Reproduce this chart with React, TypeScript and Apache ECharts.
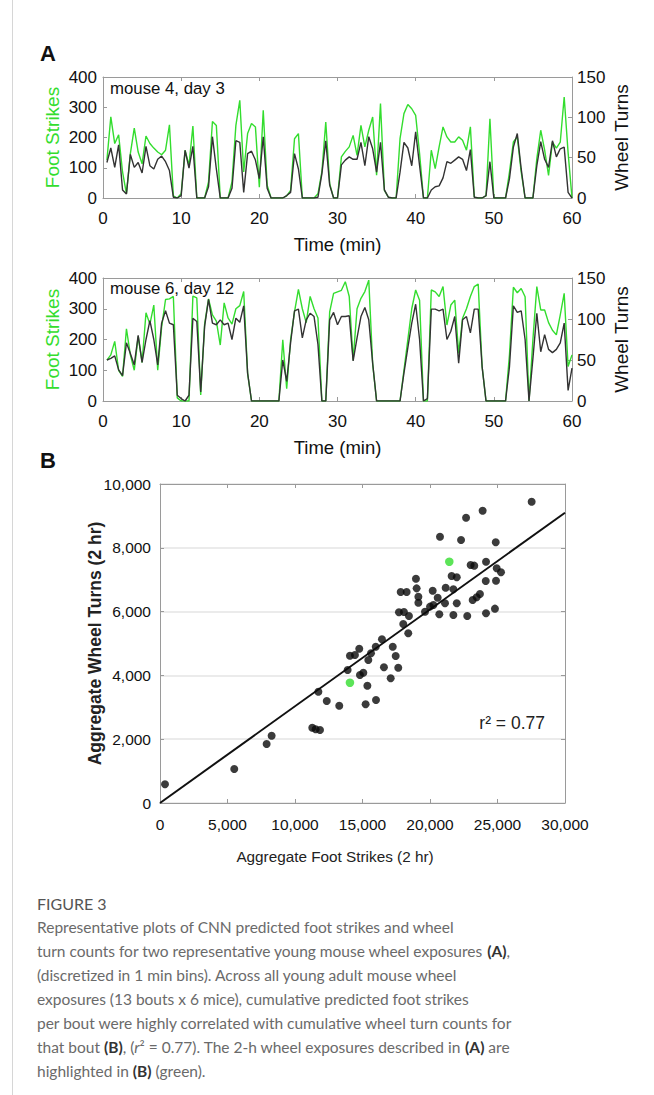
import React, { useEffect, useRef } from "react";
import * as echarts from "echarts";

// Panel A: 1-min bins plotted at 0.5 "min" steps (0.5 .. 60)
const timeStep = 0.5;
const xTicksA = { min: 0, max: 60, interval: 10 };

// mouse 4, day 3
const footStrikesM4 = [
  125, 268, 180, 209, 86, 14, 147, 231, 152, 113,
  205, 180, 165, 152, 143, 158, 242, 7, 0, 14,
  158, 108, 238, 0, 0, 0, 53, 253, 240, 0,
  0, 0, 53, 240, 323, 86, 213, 246, 235, 36,
  290, 42, 0, 0, 0, 0, 7, 25, 196, 213,
  0, 0, 0, 0, 14, 86, 251, 47, 0, 0,
  136, 154, 169, 207, 141, 240, 169, 224, 268, 75,
  312, 25, 3, 0, 0, 196, 279, 309, 295, 273,
  147, 0, 0, 158, 97, 169, 235, 202, 185, 185,
  202, 191, 158, 235, 3, 0, 0, 7, 262, 0,
  0, 0, 0, 86, 185, 202, 86, 0, 0, 0,
  130, 224, 158, 75, 185, 165, 185, 334, 150, 0,
];
const wheelTurnsM4 = [
  44, 62, 38, 66, 10, 5, 54, 38, 44, 31,
  64, 40, 36, 48, 52, 45, 34, 1, 0, 3,
  59, 37, 64, 0, 0, 0, 14, 76, 36, 0,
  0, 0, 12, 71, 69, 7, 55, 58, 47, 24,
  76, 12, 0, 0, 0, 0, 3, 7, 55, 36,
  0, 0, 0, 0, 1, 30, 71, 16, 0, 0,
  41, 47, 51, 48, 48, 69, 40, 76, 61, 32,
  69, 10, 1, 0, 0, 32, 69, 62, 40, 82,
  40, 0, 0, 10, 14, 15, 25, 45, 43, 47,
  51, 48, 34, 60, 1, 0, 0, 3, 45, 0,
  0, 0, 0, 24, 63, 80, 36, 0, 0, 0,
  40, 70, 48, 38, 71, 51, 61, 63, 7, 0,
];

// mouse 6, day 12
const footStrikesM6 = [
  133, 150, 194, 100, 80, 235, 150, 100, 210, 125,
  287, 250, 312, 100, 240, 330, 332, 340, 10, 0,
  0, 0, 341, 335, 20, 250, 332, 280, 260, 182,
  319, 270, 250, 300, 310, 356, 90, 0, 0, 0,
  0, 0, 0, 0, 0, 199, 40, 200, 290, 363,
  300, 255, 340, 300, 270, 0, 0, 290, 350, 355,
  360, 388, 340, 133, 300, 334, 356, 393, 120, 0,
  0, 0, 0, 0, 0, 0, 100, 200, 300, 361,
  328, 0, 0, 361, 355, 340, 372, 247, 312, 328,
  155, 269, 300, 340, 372, 380, 112, 0, 0, 0,
  0, 0, 0, 150, 370, 352, 366, 339, 0, 200,
  372, 296, 296, 255, 230, 215, 280, 350, 112, 150,
];
const wheelTurnsM6 = [
  50, 52, 55, 38, 31, 71, 58, 44, 80, 47,
  75, 98, 75, 44, 95, 110, 95, 93, 7, 3,
  0, 7, 101, 97, 11, 91, 124, 95, 93, 99,
  93, 95, 75, 101, 96, 116, 34, 0, 0, 0,
  0, 0, 0, 0, 0, 50, 24, 71, 110, 112,
  77, 99, 107, 103, 69, 0, 0, 99, 108, 93,
  103, 103, 104, 49, 77, 103, 114, 99, 46, 0,
  0, 0, 0, 0, 0, 0, 34, 65, 95, 118,
  75, 0, 3, 112, 112, 110, 112, 75, 85, 103,
  46, 99, 103, 83, 112, 112, 42, 0, 0, 0,
  0, 0, 0, 42, 116, 108, 110, 75, 0, 52,
  107, 60, 81, 63, 59, 63, 71, 95, 13, 40,
];

// Panel B: aggregate foot strikes vs wheel turns per bout
const boutsBlack = [
  [27530, 9445], [23900, 9163], [22670, 8944], [20740, 8348], [22300, 8245],
  [24870, 8172], [23010, 7461], [23280, 7440], [24150, 7564], [24940, 7357],
  [25260, 7232], [21600, 7116], [21980, 7075], [18960, 7032], [24130, 6959],
  [24890, 6969], [21160, 6750], [20200, 6656], [21730, 6698], [19010, 6729],
  [17830, 6614], [18270, 6614], [20570, 6436], [19140, 6468], [23700, 6552],
  [23460, 6448], [19140, 6280], [20250, 6207], [20000, 6155], [21980, 6260],
  [23160, 6364], [21110, 6260], [24810, 6092], [24150, 5946], [22760, 5862],
  [21730, 5893], [20690, 5915], [17700, 5978], [18070, 5987], [19630, 5997],
  [18440, 5862], [18020, 5611], [18390, 5320], [16440, 5131], [15980, 4900],
  [14760, 4837], [14070, 4617], [14440, 4639], [15630, 4692], [17240, 4900],
  [17460, 4608], [15430, 4483], [17650, 4242], [16590, 4254], [15060, 4085],
  [14810, 4013], [17090, 3909], [15360, 3677], [11730, 3489], [13900, 4169],
  [370, 586], [5500, 1066], [7900, 1850], [8270, 2110], [11280, 2361],
  [11530, 2310], [11850, 2288], [12350, 3197], [13280, 3050], [15230, 3094],
  [16000, 3229],
];
const boutsGreen = [[21430, 7564], [14070, 3771]];
const fitLine = [[0, 0], [30000, 9100]];

const captionLines = [
  "Representative plots of CNN predicted foot strikes and wheel",
  "turn counts for two representative young mouse wheel exposures {b|(A)},",
  "(discretized in 1 min bins). Across all young adult mouse wheel",
  "exposures (13 bouts x 6 mice), cumulative predicted foot strikes",
  "per bout were highly correlated with cumulative wheel turn counts for",
  "that bout {b|(B)}, ({i|r}² = 0.77). The 2-h wheel exposures described in {b|(A)} are",
  "highlighted in {b|(B)} (green).",
];

const GREEN = "#33dd2e";
const DARK = "#333333";
const AXIS = "#9a9a9a";
const FONT = "'Liberation Sans', Arial, sans-serif";

const toSeries = (arr: number[]) => arr.map((v, i) => [(i + 1) * timeStep, v]);

export default function App() {
  const ref = useRef<HTMLDivElement>(null);
  useEffect(() => {
    if (!ref.current) return;
    const chart = echarts.init(ref.current, undefined, { renderer: "svg" });

    const tick = () => ({ show: true, inside: true, length: 4, lineStyle: { color: AXIS, width: 1 } });
    const line = () => ({ show: true, onZero: false, lineStyle: { color: AXIS, width: 1 } });
    const axisA = (gridIndex: number) => [
      {
        gridIndex, type: "value", ...xTicksA, position: "bottom",
        axisLine: line(), axisTick: tick(), splitLine: { show: false },
        axisLabel: { fontSize: 17, color: "#111", margin: 12, fontFamily: FONT },
        name: "Time (min)", nameLocation: "middle", nameGap: 37, nameMoveOverlap: false,
        nameTextStyle: { fontSize: 18.5, color: "#111", fontFamily: FONT },
      },
      {
        gridIndex, type: "value", ...xTicksA, position: "top",
        axisLine: line(), axisTick: tick(), splitLine: { show: false },
        axisLabel: { show: false },
      },
    ];
    const yA = (gridIndex: number) => [
      {
        gridIndex, type: "value", min: 0, max: 400, interval: 100, position: "left",
        axisLine: line(), axisTick: tick(), splitLine: { show: false },
        axisLabel: { fontSize: 17, color: "#111", margin: 6, fontFamily: FONT },
        name: "Foot Strikes", nameLocation: "middle", nameGap: 41, nameMoveOverlap: false,
        nameTextStyle: { fontSize: 19, color: GREEN, fontFamily: FONT },
      },
      {
        gridIndex, type: "value", min: 0, max: 150, interval: 50, position: "right",
        axisLine: line(), axisTick: tick(), splitLine: { show: false },
        axisLabel: { fontSize: 17, color: "#111", margin: 5, fontFamily: FONT },
        name: "Wheel Turns", nameLocation: "middle", nameGap: 40, nameMoveOverlap: false,
        nameTextStyle: { fontSize: 19, color: "#111", fontFamily: FONT },
      },
    ];
    const fmt = (v: number) => v.toLocaleString("en-US");

    const graphics: any[] = [
      { type: "line", shape: { x1: 12.5, y1: 0, x2: 12.5, y2: 1095 }, style: { stroke: "#d6d6d6", lineWidth: 1 } },
      { type: "text", x: 40, y: 53, style: { text: "A", fontSize: 22, fontWeight: "bold", fill: "#111", fontFamily: FONT, verticalAlign: "middle" } },
      { type: "text", x: 40, y: 460, style: { text: "B", fontSize: 22, fontWeight: "bold", fill: "#111", fontFamily: FONT, verticalAlign: "middle" } },
      { type: "text", x: 110, y: 88, style: { text: "mouse 4, day 3", fontSize: 16.8, fill: "#111", fontFamily: FONT, verticalAlign: "middle" } },
      { type: "text", x: 110, y: 288, style: { text: "mouse 6, day 12", fontSize: 16.8, fill: "#111", fontFamily: FONT, verticalAlign: "middle" } },
      { type: "text", x: 545, y: 723, style: { text: "r² = 0.77", fontSize: 17.5, fill: "#222", fontFamily: FONT, align: "right", verticalAlign: "middle" } },
      { type: "text", x: 335, y: 856, style: { text: "Aggregate Foot Strikes (2 hr)", fontSize: 15.3, fill: "#222", fontFamily: FONT, align: "center", verticalAlign: "middle" } },
      { type: "text", x: 37, y: 903, style: { text: "FIGURE 3", fontSize: 16, fill: "#555", fontFamily: "Lato", verticalAlign: "middle" } },
    ];
    captionLines.forEach((ln, i) => {
      graphics.push({
        type: "text", x: 37, y: 927 + i * 24,
        style: {
          text: ln, fontSize: 15.5, fill: "#6a6a6a", fontFamily: "Lato", verticalAlign: "middle",
          rich: {
            b: { fontSize: 15.5, fontWeight: "bold", fill: "#333", fontFamily: "Lato" },
            i: { fontSize: 15.5, fontStyle: "italic", fill: "#6a6a6a", fontFamily: "Lato" },
          },
        },
      });
    });

    const option: any = {
      animation: false,
      textStyle: { fontFamily: FONT },
      grid: [
        { left: 103, top: 77, width: 469, height: 121 },
        { left: 103, top: 278, width: 469, height: 123 },
        { left: 160, top: 484, width: 405, height: 319 },
      ],
      xAxis: [
        ...axisA(0),
        ...axisA(1),
        {
          gridIndex: 2, type: "value", min: 0, max: 30000, interval: 5000, position: "bottom",
          axisLine: line(), axisTick: tick(), splitLine: { show: false },
          axisLabel: { fontSize: 15.5, color: "#111", margin: 13, formatter: fmt, fontFamily: FONT },
        },
        {
          gridIndex: 2, type: "value", min: 0, max: 30000, interval: 5000, position: "top",
          axisLine: line(), axisTick: tick(), splitLine: { show: false }, axisLabel: { show: false },
        },
      ],
      yAxis: [
        ...yA(0),
        ...yA(1),
        {
          gridIndex: 2, type: "value", min: 0, max: 10000, interval: 2000, position: "left",
          axisLine: line(), axisTick: tick(),
          splitLine: { show: true, lineStyle: { color: "#e4e4e4", width: 1.5 } },
          axisLabel: { fontSize: 15.5, color: "#111", margin: 9, formatter: fmt, fontFamily: FONT },
          name: "Aggregate Wheel Turns (2 hr)", nameLocation: "middle", nameGap: 56, nameMoveOverlap: false,
          nameTextStyle: { fontSize: 17.5, fontWeight: "bold", color: "#222", fontFamily: FONT },
        },
        {
          gridIndex: 2, type: "value", min: 0, max: 10000, interval: 2000, position: "right",
          axisLine: line(), axisTick: tick(), splitLine: { show: false }, axisLabel: { show: false },
        },
      ],
      series: [
        { type: "line", xAxisIndex: 0, yAxisIndex: 0, data: toSeries(footStrikesM4), showSymbol: false, symbol: "none", lineStyle: { color: GREEN, width: 1.4 }, z: 2 },
        { type: "line", xAxisIndex: 0, yAxisIndex: 1, data: toSeries(wheelTurnsM4), showSymbol: false, symbol: "none", lineStyle: { color: DARK, width: 1.4 }, z: 3 },
        { type: "line", xAxisIndex: 2, yAxisIndex: 2, data: toSeries(footStrikesM6), showSymbol: false, symbol: "none", lineStyle: { color: GREEN, width: 1.4 }, z: 2 },
        { type: "line", xAxisIndex: 2, yAxisIndex: 3, data: toSeries(wheelTurnsM6), showSymbol: false, symbol: "none", lineStyle: { color: DARK, width: 1.4 }, z: 3 },
        { type: "line", xAxisIndex: 4, yAxisIndex: 4, data: fitLine, showSymbol: false, symbol: "none", lineStyle: { color: "#111", width: 2 }, z: 2 },
        { type: "scatter", xAxisIndex: 4, yAxisIndex: 4, data: boutsBlack, symbolSize: 8, itemStyle: { color: "#0a0a0a" }, z: 3 },
        { type: "scatter", xAxisIndex: 4, yAxisIndex: 4, data: boutsGreen, symbolSize: 8.5, itemStyle: { color: GREEN }, z: 4 },
      ],
      graphic: graphics,
    };
    chart.setOption(option);
    return () => chart.dispose();
  }, []);

  return (
    <div
      ref={ref}
      style={{ position: "absolute", left: 0, top: 0, width: 654, height: 1095, background: "#fff" }}
    />
  );
}
